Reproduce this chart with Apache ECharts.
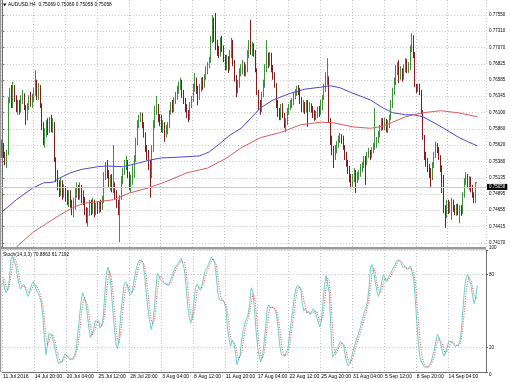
<!DOCTYPE html>
<html>
<head>
<meta charset="utf-8">
<script src="https://cdn.jsdelivr.net/npm/echarts@6/dist/echarts.min.js"></script>
<style>html,body{margin:0;padding:0;background:#fff}#c{width:510px;height:382px}</style>
</head>
<body>
<div id="c"></div>
<script>
const symbolName = 'AUDUSD,H4';
const xLabels = ['11 Jul 2016','14 Jul 20:00','20 Jul 04:00','25 Jul 12:00','28 Jul 20:00','3 Aug 04:00','8 Aug 12:00','11 Aug 20:00','17 Aug 04:00','22 Aug 12:00','25 Aug 20:00','31 Aug 04:00','5 Sep 12:00','8 Sep 20:00','14 Sep 04:00'];
const labelEvery = 20;
const priceLabels = ['0.77550','0.77310','0.77070','0.76825','0.76585','0.76345','0.76100','0.75860','0.75620','0.75380','0.75135','0.74895','0.74655','0.74415','0.74170'];
const stochLabels = [100, 80, 20, 0];
const lastQuote = [0.75069, 0.75069, 0.75055, 0.75058];
const stochLast = [70.8863, 61.7192];

// [open, high, low, close]
const ohlc = [
[0.7555,0.7570,0.7543,0.7562],[0.7562,0.7565,0.7543,0.7547],[0.7547,0.7552,0.7532,0.7540],[0.7540,0.7555,0.7528,0.7552],[0.7552,0.7633,0.7547,0.7629],
[0.7629,0.7647,0.7624,0.7641],[0.7641,0.7651,0.7617,0.7621],[0.7621,0.7656,0.7617,0.7647],[0.7647,0.7651,0.7626,0.7632],[0.7632,0.7636,0.7611,0.7617],
[0.7617,0.7629,0.7607,0.7624],[0.7624,0.7629,0.7607,0.7614],[0.7614,0.7636,0.7610,0.7632],[0.7632,0.7644,0.7623,0.7636],[0.7636,0.7639,0.7614,0.7617],
[0.7617,0.7621,0.7592,0.7602],[0.7602,0.7624,0.7599,0.7620],[0.7620,0.7636,0.7614,0.7629],[0.7629,0.7641,0.7619,0.7623],[0.7623,0.7638,0.7617,0.7632],
[0.7632,0.7647,0.7626,0.7641],[0.7641,0.7673,0.7635,0.7651],[0.7651,0.7659,0.7629,0.7636],[0.7636,0.7654,0.7629,0.7647],[0.7647,0.7651,0.7617,0.7621],
[0.7621,0.7624,0.7584,0.7589],[0.7589,0.7596,0.7562,0.7570],[0.7570,0.7587,0.7558,0.7581],[0.7581,0.7599,0.7574,0.7592],[0.7592,0.7602,0.7577,0.7584],
[0.7584,0.7604,0.7580,0.7596],[0.7596,0.7607,0.7581,0.7587],[0.7587,0.7602,0.7580,0.7592],[0.7592,0.7596,0.7537,0.7540],[0.7540,0.7544,0.7507,0.7518],
[0.7518,0.7525,0.7495,0.7503],[0.7503,0.7510,0.7485,0.7495],[0.7495,0.7513,0.7487,0.7506],[0.7506,0.7510,0.7481,0.7492],[0.7492,0.7504,0.7484,0.7498],
[0.7498,0.7501,0.7478,0.7487],[0.7487,0.7495,0.7473,0.7481],[0.7481,0.7495,0.7470,0.7491],[0.7491,0.7495,0.7469,0.7476],[0.7476,0.7481,0.7458,0.7466],
[0.7466,0.7484,0.7455,0.7473],[0.7473,0.7498,0.7466,0.7492],[0.7492,0.7507,0.7484,0.7498],[0.7498,0.7503,0.7481,0.7487],[0.7487,0.7507,0.7481,0.7495],
[0.7495,0.7503,0.7476,0.7488],[0.7488,0.7495,0.7473,0.7481],[0.7481,0.7485,0.7458,0.7466],[0.7466,0.7470,0.7446,0.7454],[0.7454,0.7469,0.7441,0.7463],
[0.7463,0.7481,0.7457,0.7473],[0.7473,0.7481,0.7458,0.7466],[0.7466,0.7484,0.7460,0.7476],[0.7476,0.7481,0.7455,0.7463],[0.7463,0.7476,0.7458,0.7470],
[0.7470,0.7478,0.7460,0.7466],[0.7466,0.7478,0.7461,0.7473],[0.7473,0.7481,0.7463,0.7469],[0.7469,0.7487,0.7466,0.7481],[0.7481,0.7522,0.7476,0.7518],
[0.7518,0.7537,0.7510,0.7532],[0.7532,0.7540,0.7513,0.7518],[0.7518,0.7525,0.7500,0.7506],[0.7506,0.7518,0.7495,0.7513],[0.7513,0.7519,0.7492,0.7498],
[0.7498,0.7562,0.7491,0.7503],[0.7503,0.7507,0.7481,0.7488],[0.7488,0.7495,0.7469,0.7473],[0.7473,0.7481,0.7458,0.7463],[0.7463,0.7488,0.7418,0.7484],
[0.7484,0.7516,0.7481,0.7510],[0.7510,0.7528,0.7504,0.7522],[0.7522,0.7540,0.7518,0.7532],[0.7532,0.7546,0.7525,0.7537],[0.7537,0.7540,0.7513,0.7518],
[0.7518,0.7522,0.7495,0.7498],[0.7498,0.7518,0.7492,0.7513],[0.7513,0.7532,0.7503,0.7522],[0.7522,0.7547,0.7513,0.7540],[0.7540,0.7573,0.7537,0.7570],
[0.7570,0.7599,0.7562,0.7592],[0.7592,0.7607,0.7587,0.7602],[0.7602,0.7611,0.7596,0.7607],[0.7607,0.7610,0.7587,0.7592],[0.7592,0.7596,0.7573,0.7577],
[0.7577,0.7581,0.7552,0.7558],[0.7558,0.7562,0.7540,0.7547],[0.7547,0.7555,0.7525,0.7532],[0.7532,0.7540,0.7484,0.7518],[0.7518,0.7562,0.7513,0.7555],
[0.7555,0.7599,0.7552,0.7592],[0.7592,0.7620,0.7587,0.7614],[0.7614,0.7635,0.7607,0.7617],[0.7617,0.7623,0.7596,0.7602],[0.7602,0.7608,0.7590,0.7596],
[0.7596,0.7607,0.7581,0.7587],[0.7587,0.7599,0.7580,0.7592],[0.7592,0.7596,0.7567,0.7577],[0.7577,0.7592,0.7573,0.7584],[0.7584,0.7596,0.7578,0.7590],
[0.7590,0.7614,0.7587,0.7611],[0.7611,0.7626,0.7607,0.7620],[0.7620,0.7629,0.7610,0.7614],[0.7614,0.7633,0.7611,0.7629],[0.7629,0.7641,0.7623,0.7635],
[0.7635,0.7650,0.7629,0.7644],[0.7644,0.7656,0.7638,0.7651],[0.7651,0.7662,0.7644,0.7656],[0.7656,0.7659,0.7632,0.7636],[0.7636,0.7644,0.7623,0.7629],
[0.7629,0.7632,0.7611,0.7617],[0.7617,0.7623,0.7602,0.7607],[0.7607,0.7614,0.7596,0.7602],[0.7602,0.7626,0.7599,0.7621],[0.7621,0.7635,0.7617,0.7629],
[0.7629,0.7653,0.7626,0.7647],[0.7647,0.7669,0.7641,0.7659],[0.7659,0.7662,0.7638,0.7644],[0.7644,0.7650,0.7621,0.7633],[0.7633,0.7653,0.7629,0.7647],
[0.7647,0.7662,0.7641,0.7656],[0.7656,0.7663,0.7644,0.7651],[0.7651,0.7667,0.7647,0.7662],[0.7662,0.7679,0.7659,0.7673],[0.7673,0.7685,0.7667,0.7681],
[0.7681,0.7693,0.7676,0.7688],[0.7688,0.7724,0.7684,0.7718],[0.7718,0.7755,0.7713,0.7748],[0.7748,0.7751,0.7715,0.7721],[0.7721,0.7758,0.7703,0.7710],
[0.7710,0.7718,0.7694,0.7703],[0.7703,0.7709,0.7691,0.7697],[0.7697,0.7722,0.7693,0.7715],[0.7715,0.7724,0.7700,0.7706],[0.7706,0.7710,0.7685,0.7691],
[0.7691,0.7696,0.7673,0.7681],[0.7681,0.7696,0.7673,0.7688],[0.7688,0.7694,0.7669,0.7676],[0.7676,0.7703,0.7673,0.7696],[0.7696,0.7721,0.7691,0.7715],
[0.7715,0.7718,0.7679,0.7685],[0.7685,0.7688,0.7656,0.7662],[0.7662,0.7666,0.7633,0.7644],[0.7644,0.7659,0.7639,0.7651],[0.7651,0.7676,0.7647,0.7670],
[0.7670,0.7682,0.7664,0.7673],[0.7673,0.7688,0.7667,0.7678],[0.7678,0.7685,0.7664,0.7670],[0.7670,0.7682,0.7664,0.7676],[0.7676,0.7703,0.7670,0.7696],
[0.7696,0.7718,0.7691,0.7710],[0.7710,0.7748,0.7696,0.7703],[0.7703,0.7715,0.7694,0.7710],[0.7710,0.7713,0.7693,0.7700],[0.7700,0.7703,0.7670,0.7673],
[0.7673,0.7676,0.7636,0.7641],[0.7641,0.7644,0.7614,0.7621],[0.7621,0.7629,0.7607,0.7614],[0.7614,0.7641,0.7611,0.7636],[0.7636,0.7659,0.7633,0.7651],
[0.7651,0.7682,0.7647,0.7676],[0.7676,0.7718,0.7670,0.7691],[0.7691,0.7699,0.7676,0.7685],[0.7685,0.7700,0.7679,0.7696],[0.7696,0.7699,0.7670,0.7676],
[0.7676,0.7681,0.7659,0.7666],[0.7666,0.7670,0.7647,0.7651],[0.7651,0.7654,0.7617,0.7621],[0.7621,0.7629,0.7604,0.7611],[0.7611,0.7617,0.7599,0.7602],
[0.7602,0.7623,0.7599,0.7617],[0.7617,0.7624,0.7602,0.7607],[0.7607,0.7610,0.7587,0.7592],[0.7592,0.7602,0.7581,0.7596],[0.7596,0.7617,0.7592,0.7611],
[0.7611,0.7623,0.7607,0.7617],[0.7617,0.7629,0.7614,0.7623],[0.7623,0.7632,0.7617,0.7626],[0.7626,0.7641,0.7621,0.7635],[0.7635,0.7645,0.7630,0.7639],
[0.7639,0.7650,0.7635,0.7644],[0.7644,0.7651,0.7636,0.7641],[0.7641,0.7647,0.7623,0.7629],[0.7629,0.7633,0.7611,0.7617],[0.7617,0.7629,0.7610,0.7621],
[0.7621,0.7626,0.7608,0.7614],[0.7614,0.7629,0.7610,0.7623],[0.7623,0.7629,0.7589,0.7617],[0.7617,0.7626,0.7611,0.7620],[0.7620,0.7624,0.7610,0.7614],
[0.7614,0.7620,0.7602,0.7608],[0.7608,0.7614,0.7598,0.7602],[0.7602,0.7613,0.7599,0.7607],[0.7607,0.7619,0.7602,0.7614],[0.7614,0.7620,0.7604,0.7610],
[0.7610,0.7629,0.7607,0.7621],[0.7621,0.7636,0.7614,0.7632],[0.7632,0.7653,0.7629,0.7647],[0.7647,0.7670,0.7641,0.7659],[0.7659,0.7691,0.7651,0.7662],
[0.7662,0.7664,0.7595,0.7599],[0.7599,0.7602,0.7562,0.7570],[0.7570,0.7576,0.7547,0.7555],[0.7555,0.7561,0.7528,0.7543],[0.7543,0.7562,0.7540,0.7555],
[0.7555,0.7568,0.7550,0.7562],[0.7562,0.7576,0.7558,0.7570],[0.7570,0.7580,0.7565,0.7574],[0.7574,0.7578,0.7564,0.7570],[0.7570,0.7576,0.7555,0.7558],
[0.7558,0.7562,0.7540,0.7547],[0.7547,0.7552,0.7530,0.7535],[0.7535,0.7540,0.7519,0.7525],[0.7525,0.7531,0.7507,0.7513],[0.7513,0.7519,0.7498,0.7506],
[0.7506,0.7519,0.7500,0.7513],[0.7513,0.7528,0.7507,0.7522],[0.7522,0.7525,0.7491,0.7510],[0.7510,0.7522,0.7506,0.7516],[0.7516,0.7525,0.7510,0.7519],
[0.7519,0.7534,0.7515,0.7528],[0.7528,0.7537,0.7522,0.7532],[0.7532,0.7546,0.7528,0.7540],[0.7540,0.7546,0.7503,0.7537],[0.7537,0.7552,0.7532,0.7547],
[0.7547,0.7558,0.7543,0.7552],[0.7552,0.7555,0.7540,0.7546],[0.7546,0.7559,0.7543,0.7555],[0.7555,0.7565,0.7550,0.7558],[0.7558,0.7617,0.7555,0.7562],
[0.7562,0.7574,0.7558,0.7570],[0.7570,0.7583,0.7565,0.7577],[0.7577,0.7592,0.7573,0.7587],[0.7587,0.7602,0.7583,0.7596],[0.7596,0.7602,0.7584,0.7590],
[0.7590,0.7602,0.7584,0.7596],[0.7596,0.7601,0.7581,0.7587],[0.7587,0.7599,0.7580,0.7592],[0.7592,0.7607,0.7587,0.7602],[0.7602,0.7629,0.7599,0.7621],
[0.7621,0.7647,0.7617,0.7641],[0.7641,0.7662,0.7636,0.7656],[0.7656,0.7681,0.7651,0.7673],[0.7673,0.7685,0.7666,0.7679],[0.7679,0.7688,0.7654,0.7666],
[0.7666,0.7679,0.7659,0.7670],[0.7670,0.7676,0.7656,0.7662],[0.7662,0.7682,0.7659,0.7676],[0.7676,0.7691,0.7670,0.7685],[0.7685,0.7690,0.7669,0.7673],
[0.7673,0.7685,0.7669,0.7679],[0.7679,0.7710,0.7673,0.7706],[0.7706,0.7728,0.7700,0.7721],[0.7721,0.7725,0.7691,0.7696],[0.7696,0.7700,0.7648,0.7651],
[0.7651,0.7653,0.7639,0.7644],[0.7644,0.7653,0.7641,0.7648],[0.7648,0.7653,0.7636,0.7641],[0.7641,0.7644,0.7608,0.7611],[0.7611,0.7614,0.7570,0.7573],
[0.7573,0.7577,0.7540,0.7547],[0.7547,0.7552,0.7530,0.7537],[0.7537,0.7543,0.7522,0.7528],[0.7528,0.7534,0.7513,0.7522],[0.7522,0.7528,0.7500,0.7513],
[0.7513,0.7537,0.7510,0.7532],[0.7532,0.7552,0.7528,0.7547],[0.7547,0.7567,0.7543,0.7561],[0.7561,0.7565,0.7550,0.7555],[0.7555,0.7559,0.7540,0.7543],
[0.7543,0.7547,0.7522,0.7528],[0.7528,0.7532,0.7491,0.7513],[0.7513,0.7518,0.7461,0.7466],[0.7466,0.7473,0.7439,0.7458],[0.7458,0.7481,0.7454,0.7473],
[0.7473,0.7481,0.7460,0.7466],[0.7466,0.7478,0.7461,0.7472],[0.7472,0.7484,0.7451,0.7476],[0.7476,0.7481,0.7463,0.7469],[0.7469,0.7473,0.7458,0.7463],
[0.7463,0.7475,0.7457,0.7470],[0.7470,0.7475,0.7458,0.7464],[0.7464,0.7473,0.7446,0.7469],[0.7469,0.7473,0.7457,0.7463],[0.7463,0.7492,0.7460,0.7488],
[0.7488,0.7513,0.7484,0.7507],[0.7507,0.7522,0.7503,0.7516],[0.7516,0.7519,0.7498,0.7504],[0.7504,0.7516,0.7495,0.7510],[0.7510,0.7515,0.7492,0.7498],
[0.7498,0.7503,0.7484,0.7488],[0.7488,0.7492,0.7476,0.7481],[0.7481,0.7507,0.7476,0.75069],[0.75069,0.75069,0.75055,0.75058]
];

// [bar index, value]
const maBlue = [[0,0.7463],[9,0.7481],[19,0.7498],[26,0.7506],[32,0.7507],[36,0.7513],[43,0.7521],[50,0.7526],[60,0.7530],[65,0.7531],[76,0.7530],[85,0.7535],[93,0.7540],[100,0.7543],[110,0.7544],[124,0.7546],[130,0.7552],[137,0.7565],[143,0.7577],[150,0.7587],[162,0.7617],[170,0.7629],[181,0.7639],[190,0.7645],[200,0.7648],[206,0.7650],[212,0.7647],[220,0.7639],[231,0.7629],[239,0.7617],[245,0.7610],[253,0.7607],[258,0.7607],[264,0.7604],[271,0.7595],[277,0.7587],[286,0.7574],[292,0.7567],[298,0.7561]];
const maRed = [[8,0.7408],[11,0.7415],[19,0.7432],[28,0.7446],[36,0.7458],[45,0.7470],[52,0.7476],[60,0.7478],[70,0.7481],[80,0.7491],[91,0.7498],[102,0.7507],[107,0.7512],[116,0.7521],[129,0.7528],[141,0.7543],[150,0.7558],[162,0.7573],[175,0.7581],[187,0.7592],[200,0.7596],[208,0.7595],[220,0.7589],[231,0.7587],[239,0.7590],[245,0.7596],[253,0.7604],[258,0.7607],[264,0.7610],[275,0.7613],[286,0.7610],[298,0.7604]];

const stochMain = [
76,68,65,68,76,92,95,95,87,79,
72,68,70,72,69,64,62,67,72,74,
71,67,65,62,57,46,28,14,23,32,
31,29,23,17,11,7,7,8,12,15,
14,12,10,10,11,14,19,31,44,57,
65,62,57,47,36,28,27,35,42,43,
41,36,38,45,65,81,86,81,67,51,
36,23,19,29,47,60,71,74,72,66,
63,65,72,80,86,90,92,93,89,79,
65,53,43,35,39,51,67,81,81,76,
74,73,72,71,71,74,78,82,85,87,
89,91,93,93,84,71,55,45,40,45,
58,69,72,69,67,71,77,83,85,88,
91,94,95,90,79,65,59,60,59,57,
52,37,27,21,26,24,17,6,6,14,
27,34,40,44,47,56,69,66,52,34,
20,13,8,13,23,36,52,55,53,53,
53,51,46,34,21,14,13,13,13,19,
30,40,50,61,68,71,72,69,57,50,
52,48,50,47,48,52,51,46,41,37,
41,56,71,79,80,65,36,12,13,17,
20,22,25,26,22,14,8,5,7,12,
17,22,26,30,34,39,44,49,52,58,
69,86,88,81,73,66,62,66,74,80,
77,74,75,80,82,83,87,90,92,93,
90,86,85,86,84,83,87,86,77,61,
41,24,12,8,6,4,3,4,5,8,
13,18,25,31,28,23,17,13,14,19,
25,26,25,23,21,21,22,25,34,51,
68,77,80,76,71,63,56,61,70.8863
];
const stochSignal = [
78,75,70,67,70,79,88,94,92,87,
79,73,70,70,70,68,65,64,67,71,
72,71,68,65,61,55,44,29,22,23,
29,31,28,23,17,12,8,7,9,12,
14,14,12,11,10,12,15,21,31,44,
55,61,61,55,47,37,30,30,35,40,
42,40,38,40,49,64,77,83,78,66,
51,37,26,24,32,45,59,68,72,71,
67,65,67,72,79,85,89,92,91,87,
78,66,54,44,39,42,52,66,76,79,
77,74,73,72,71,72,74,78,82,85,
87,89,91,92,90,83,70,57,47,43,
48,57,66,70,69,69,72,77,82,85,
88,91,93,93,88,78,68,61,59,59,
56,49,39,28,25,24,22,16,10,9,
16,25,34,39,44,49,57,64,62,51,
35,22,14,11,15,24,37,48,53,54,
53,52,50,44,34,23,16,13,13,15,
21,30,40,50,60,67,70,71,66,59,
53,50,50,48,48,49,50,50,46,41,
40,45,56,69,77,75,60,38,20,14,
17,20,22,24,24,21,15,9,7,8,
12,17,22,26,30,34,39,44,48,53,
60,71,81,85,81,73,67,65,67,73,
77,77,75,76,79,82,84,87,90,92,
92,90,87,86,85,84,85,85,83,75,
60,42,26,15,9,6,4,4,4,6,
9,13,19,25,28,27,23,18,15,15,
19,23,25,25,23,22,21,23,27,37,
51,65,75,78,76,70,63,60,61.7192
];

// ---- layout constants ----
const EMPTY_BARS = 5;
const nCat = ohlc.length + EMPTY_BARS;
const categories = Array.from({length: nCat}, (_, i) => String(i));
const GL = 1.2, GW = 484.8;
const FONT = 'Liberation Sans';
const FS_X = 5;
const FS_Y = 4.5;
const FS_HEAD = 4.8;
const gridColor = '#c4c4c4';
const axisColor = '#6e6e6e';

const isLabelIdx = (i) => i % labelEvery === 0 && (i / labelEvery) < xLabels.length;
const priceVals = priceLabels.map(Number);
const lastClose = lastQuote[3];

const chart = echarts.init(document.getElementById('c'), null, {renderer: 'canvas'});
chart.setOption({
  animation: false,
  backgroundColor: '#ffffff',
  textStyle: {fontFamily: FONT},
  grid: [
    {left: GL, top: 0, width: GW, height: 247},
    {left: GL, top: 250, width: GW, height: 122}
  ],
  xAxis: [
    {type: 'category', gridIndex: 0, data: categories, boundaryGap: true,
     axisLine: {show: false}, axisTick: {show: false}, axisLabel: {show: false},
     splitLine: {show: true, interval: (i) => isLabelIdx(i), lineStyle: {color: gridColor, type: [1, 2], width: 1}}},
    {type: 'value', gridIndex: 0, min: -0.5, max: nCat - 0.5, show: false},
    {type: 'category', gridIndex: 1, data: categories, boundaryGap: true,
     axisLine: {show: true, lineStyle: {color: axisColor, width: 1}},
     axisTick: {show: false},
     axisLabel: {show: true, interval: (i) => isLabelIdx(i), formatter: (v, i) => xLabels[Math.round(Number(v) / labelEvery)],
       align: 'left', margin: 2, color: '#000', fontSize: FS_X, fontFamily: FONT},
     splitLine: {show: true, interval: (i) => isLabelIdx(i), lineStyle: {color: gridColor, type: [1, 2], width: 1}}}
  ],
  yAxis: [
    {type: 'value', gridIndex: 0, position: 'right', min: 0.74109, max: 0.77772, scale: true,
     axisLine: {show: true, lineStyle: {color: axisColor, width: 1}},
     axisTick: {show: true, length: 2, customValues: priceVals, lineStyle: {color: axisColor}},
     axisLabel: {show: true, customValues: priceVals, margin: 3, color: '#000', fontSize: FS_Y, fontFamily: FONT,
       formatter: (v) => { const s = priceLabels.find(t => Math.abs(Number(t) - v) < 1e-7); return s || v.toFixed(5); }},
     splitLine: {show: true, lineStyle: {color: gridColor, type: [1, 2], width: 1}}},
    {type: 'value', gridIndex: 1, position: 'right', min: 0, max: 100,
     axisLine: {show: true, lineStyle: {color: axisColor, width: 1}},
     axisTick: {show: true, length: 2, customValues: stochLabels, lineStyle: {color: axisColor}},
     axisLabel: {show: true, customValues: stochLabels, margin: 3, color: '#000', fontSize: FS_Y, fontFamily: FONT,
       verticalAlignMinLabel: 'bottom', verticalAlignMaxLabel: 'top'},
     splitLine: {show: true, lineStyle: {color: gridColor, type: [1, 2], width: 1}}}
  ],
  series: [
    {type: 'candlestick', xAxisIndex: 0, yAxisIndex: 0, barWidth: 1.3,
     data: ohlc.map(r => [r[0], r[3], r[2], r[1]]),
     itemStyle: {color: '#3f8f3f', color0: '#7d1d1d', borderColor: '#3f8f3f', borderColor0: '#7d1d1d', borderWidth: 1},
     markLine: {silent: true, symbol: ['none', 'none'], animation: false,
       lineStyle: {color: '#c8c8c8', type: 'solid', width: 1},
       label: {show: true, position: 'end', distance: 1, formatter: () => lastClose.toFixed(5),
         backgroundColor: '#000', color: '#fff', fontSize: FS_Y, fontFamily: FONT, padding: [1, 2, 0, 2]},
       data: [{yAxis: lastClose}]}},
    {type: 'line', xAxisIndex: 1, yAxisIndex: 0, data: maBlue, showSymbol: false, symbol: 'none',
     lineStyle: {color: '#4a4acb', width: 1}, z: 3},
    {type: 'line', xAxisIndex: 1, yAxisIndex: 0, data: maRed, showSymbol: false, symbol: 'none',
     lineStyle: {color: '#e05a5a', width: 1}, z: 3},
    {type: 'line', xAxisIndex: 2, yAxisIndex: 1, data: stochMain, showSymbol: false, symbol: 'none',
     lineStyle: {color: '#6fcfc5', width: 1}},
    {type: 'line', xAxisIndex: 2, yAxisIndex: 1, data: stochSignal, showSymbol: false, symbol: 'none',
     lineStyle: {color: '#e05050', width: 1, type: [1, 1.5]}}
  ],
  graphic: [
    {type: 'rect', shape: {x: 0, y: 0, width: 1.2, height: 372}, style: {fill: '#9a9a9a'}, silent: true},
    {type: 'rect', shape: {x: 0, y: 247, width: GL + GW, height: 2.6}, style: {fill: '#9a9a9a'}, silent: true},
    {type: 'polygon', shape: {points: [[3, 3.6], [6.4, 3.6], [4.7, 6.2]]}, style: {fill: '#000'}, silent: true},
    {type: 'text', x: 8, y: 5, silent: true,
     style: {text: symbolName + '  ' + lastQuote.map(v => v.toFixed(5)).join(' '), fill: '#000', font: FS_HEAD + 'px "' + FONT + '"', verticalAlign: 'middle'}},
    {type: 'text', x: 3, y: 254.5, silent: true,
     style: {text: 'Stoch(14,3,3) ' + stochLast.map(v => v.toFixed(4)).join(' '), fill: '#000', font: '4.8px "' + FONT + '"', verticalAlign: 'middle'}}
  ]
});
</script>
</body>
</html>
